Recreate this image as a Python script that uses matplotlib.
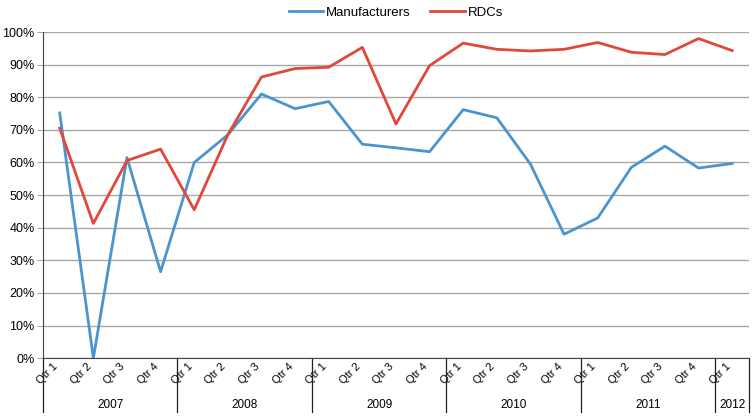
import matplotlib
matplotlib.use("Agg")
import matplotlib.pyplot as plt
from matplotlib.ticker import FuncFormatter

plt.rcParams['font.family'] = ['Liberation Sans', 'DejaVu Sans']

years = ['2007', '2008', '2009', '2010', '2011', '2012']
quarters_per_year = [4, 4, 4, 4, 4, 1]
quarter_labels = ['Qtr 1', 'Qtr 2', 'Qtr 3', 'Qtr 4'] * 5 + ['Qtr 1']

manufacturers = [75.2, 0.0, 61.5, 26.5,
                 60.0, 68.5, 81.0, 76.5,
                 78.7, 65.6, 64.5, 63.3,
                 76.2, 73.7, 59.5, 38.0,
                 43.0, 58.5, 65.0, 58.3,
                 59.7]
rdcs = [70.5, 41.3, 60.6, 64.1,
        45.5, 68.5, 86.2, 88.8,
        89.2, 95.3, 71.8, 89.7,
        96.6, 94.7, 94.2, 94.7,
        96.8, 93.8, 93.1, 98.0,
        94.3]

x = list(range(len(quarter_labels)))

fig = plt.figure(figsize=(7.53, 4.16), dpi=100)
ax = fig.add_axes([0.057, 0.139, 0.9377, 0.784])

ax.plot(x, manufacturers, color='#4a94cf', lw=2.0, label='Manufacturers', zorder=3)
ax.plot(x, rdcs, color='#e0483a', lw=2.0, label='RDCs', zorder=3)

ax.set_xlim(-0.5, len(x) - 0.5)
ax.set_ylim(0, 100)
ax.set_yticks(range(0, 101, 10))
ax.yaxis.set_major_formatter(FuncFormatter(lambda v, p: f"{int(v)}%"))
ax.grid(axis='y', color='#a8a8a8', lw=1.0)
ax.set_axisbelow(True)
ax.tick_params(axis='y', length=4, color='#a8a8a8', labelsize=9, pad=2)
for s in ['top', 'right']:
    ax.spines[s].set_visible(False)
ax.spines['left'].set_color('#444444')
ax.spines['bottom'].set_color('#444444')

ax.set_xticks(x)
ax.set_xticklabels(quarter_labels, rotation=45, ha='right', va='top', fontsize=8)
ax.tick_params(axis='x', length=0, pad=2)

# year groups below the quarter labels
trans = ax.get_xaxis_transform()
start = 0
bounds = [-0.5]
for yr, n in zip(years, quarters_per_year):
    mid = start + (n - 1) / 2
    ax.text(mid, -0.144, yr, transform=trans, ha='center', va='center', fontsize=8.5)
    start += n
    bounds.append(start - 0.5)
for b in bounds:
    ax.plot([b, b], [0, -0.166], transform=trans, color='#222222', lw=0.9, clip_on=False)

ax.legend(loc='upper center', bbox_to_anchor=(0.5, 1.115), ncol=2, frameon=False,
          fontsize=9.5, handlelength=2.6, handletextpad=0.2, columnspacing=1.5)

fig.savefig('out.png', dpi=100)
